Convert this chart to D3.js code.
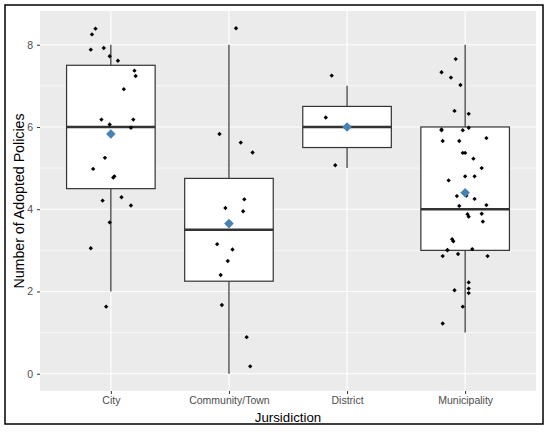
<!DOCTYPE html>
<html>
<head>
<meta charset="utf-8">
<script src="https://cdn.jsdelivr.net/npm/d3@7"></script>
<style>
  body { margin: 0; background: #fff; }
  text { font-family: "Liberation Sans", Arial, sans-serif; }
</style>
</head>
<body>
<div id="grafico"></div>
<script>
// categorias e estatísticas do boxplot
const categories = ["City", "Community/Town", "District", "Municipality"];
const lowerWhisker = [2, 0, 5, 1];
const q1 = [4.5, 2.25, 5.5, 3];
const medians = [6, 3.5, 6, 4];
const q3 = [7.5, 4.75, 6.5, 6];
const upperWhisker = [8, 8, 7, 8];
const means = [5.83, 3.65, 6.0, 4.4];
const yTicks = [0, 2, 4, 6, 8];

// pontos com jitter: [deslocamento horizontal (fração da categoria), valor]
const cityPts = [[-0.13, 8.39], [-0.16, 8.25], [-0.17, 7.88], [-0.06, 7.92], [-0.01, 7.72], [0.06, 7.61],
  [0.20, 7.37], [0.21, 7.24], [0.11, 6.92], [-0.08, 6.18], [-0.01, 6.06], [0.19, 6.18], [0.17, 5.98],
  [-0.05, 5.25], [-0.15, 4.98], [0.03, 4.80], [0.02, 4.77], [-0.07, 4.21], [0.09, 4.29], [0.17, 4.09],
  [-0.01, 3.68], [-0.17, 3.05], [-0.04, 1.63]];
const communityPts = [[0.06, 8.40], [-0.08, 5.83], [0.10, 5.62], [0.20, 5.38], [0.13, 4.24], [-0.03, 4.03],
  [0.12, 3.95], [-0.10, 3.15], [0.03, 3.02], [-0.01, 2.74], [-0.07, 2.40], [-0.06, 1.67], [0.15, 0.89],
  [0.18, 0.18]];
const districtPts = [[-0.13, 7.25], [-0.18, 6.23], [-0.10, 5.07]];
const municipalityPts = [[-0.08, 7.65], [-0.20, 7.33], [-0.12, 7.20], [-0.04, 7.02], [-0.09, 6.39], [0.03, 6.32],
  [-0.20, 5.94], [-0.20, 5.92], [-0.02, 5.92], [0.03, 5.98], [-0.19, 5.66], [-0.05, 5.66], [0.18, 5.73],
  [-0.02, 5.37], [0.00, 5.37], [0.07, 5.23], [0.14, 5.00], [0.00, 4.80], [0.08, 4.80], [-0.14, 4.70],
  [-0.07, 4.32], [0.01, 4.33], [0.08, 4.25], [-0.05, 4.08], [0.18, 4.10], [0.02, 3.88], [0.14, 3.89],
  [0.03, 3.82], [0.15, 3.70], [-0.11, 3.27], [-0.10, 3.22], [-0.15, 3.01], [-0.15, 3.00], [0.06, 3.03],
  [-0.19, 2.86], [-0.06, 2.91], [0.19, 2.86], [0.03, 2.22], [-0.09, 2.03], [0.03, 2.07], [0.03, 1.96],
  [-0.02, 1.63], [-0.19, 1.22]];
const pointSets = [cityPts, communityPts, districtPts, municipalityPts];

//Define as margens do gráfico (painel cinza)
const W = 550, H = 432;
const margin = { top: 11, right: 14, bottom: 41, left: 40 };
const width = W - margin.left - margin.right;
const height = H - margin.top - margin.bottom;

const root = d3.select("#grafico")
  .append("svg")
    .attr("width", W)
    .attr("height", H);

root.append("rect").attr("width", W).attr("height", H).attr("fill", "#fff");

// moldura preta externa
root.append("rect")
  .attr("x", 5).attr("y", 5)
  .attr("width", 538).attr("height", 419)
  .attr("fill", "none")
  .attr("stroke", "#000")
  .attr("stroke-width", 1.5);

const svg = root.append("g")
  .attr("transform", "translate(" + margin.left + "," + margin.top + ")");

// escalas
const x = d3.scalePoint()
  .domain(categories)
  .range([0, width])
  .padding(0.6);
const step = x.step();

const y = d3.scaleLinear()
  .domain([-0.42, 8.82])
  .range([height, 0]);

// fundo do painel
svg.append("rect")
  .attr("width", width)
  .attr("height", height)
  .attr("fill", "#EBEBEB");

// grade menor
svg.selectAll(".minor")
  .data([1, 3, 5, 7])
  .enter().append("line")
    .attr("x1", 0).attr("x2", width)
    .attr("y1", d => y(d)).attr("y2", d => y(d))
    .attr("stroke", "#fff")
    .attr("stroke-width", 0.6);

// grade maior
svg.selectAll(".major")
  .data(yTicks)
  .enter().append("line")
    .attr("x1", 0).attr("x2", width)
    .attr("y1", d => y(d)).attr("y2", d => y(d))
    .attr("stroke", "#fff")
    .attr("stroke-width", 1.1);

svg.selectAll(".vgrid")
  .data(categories)
  .enter().append("line")
    .attr("x1", d => x(d)).attr("x2", d => x(d))
    .attr("y1", 0).attr("y2", height)
    .attr("stroke", "#fff")
    .attr("stroke-width", 1.1);

// eixos
const yAxis = svg.append("g")
  .call(d3.axisLeft(y).tickValues(yTicks).tickSize(3).tickPadding(4));
const xAxis = svg.append("g")
  .attr("transform", "translate(0," + height + ")")
  .call(d3.axisBottom(x).tickSize(3).tickPadding(3));

[xAxis, yAxis].forEach(ax => {
  ax.select(".domain").remove();
  ax.selectAll(".tick line").attr("stroke", "#333").attr("stroke-width", 1);
  ax.selectAll(".tick text")
    .attr("fill", "#4D4D4D")
    .attr("font-size", "10.5px")
    .attr("font-family", "'Liberation Sans', Arial, sans-serif");
});

// boxplots
const boxW = step * 0.75;
const boxes = svg.selectAll(".box")
  .data(categories)
  .enter().append("g");

boxes.append("line")
  .attr("x1", d => x(d)).attr("x2", d => x(d))
  .attr("y1", (d, i) => y(upperWhisker[i]))
  .attr("y2", (d, i) => y(q3[i]))
  .attr("stroke", "#333").attr("stroke-width", 1.2);

boxes.append("line")
  .attr("x1", d => x(d)).attr("x2", d => x(d))
  .attr("y1", (d, i) => y(q1[i]))
  .attr("y2", (d, i) => y(lowerWhisker[i]))
  .attr("stroke", "#333").attr("stroke-width", 1.2);

boxes.append("rect")
  .attr("x", d => x(d) - boxW / 2)
  .attr("width", boxW)
  .attr("y", (d, i) => y(q3[i]))
  .attr("height", (d, i) => y(q1[i]) - y(q3[i]))
  .attr("fill", "#fff")
  .attr("stroke", "#333")
  .attr("stroke-width", 1.2);

boxes.append("line")
  .attr("x1", d => x(d) - boxW / 2).attr("x2", d => x(d) + boxW / 2)
  .attr("y1", (d, i) => y(medians[i]))
  .attr("y2", (d, i) => y(medians[i]))
  .attr("stroke", "#333").attr("stroke-width", 2.4);

// pontos com jitter
const dot = d3.symbol().type(d3.symbolSquare).size(9.5)();
pointSets.forEach((pts, i) => {
  svg.selectAll(".pt" + i)
    .data(pts)
    .enter().append("path")
      .attr("d", dot)
      .attr("transform", d => "translate(" + (x(categories[i]) + d[0] * step) + "," + y(d[1]) + ") rotate(45)")
      .attr("fill", "#000");
});

// médias (losango azul)
const diamond = d3.symbol().type(d3.symbolSquare).size(46)();
svg.selectAll(".mean")
  .data(means)
  .enter().append("path")
    .attr("d", diamond)
    .attr("transform", (d, i) => "translate(" + x(categories[i]) + "," + y(d) + ") rotate(45)")
    .attr("fill", "#4682B4");

// títulos dos eixos
root.append("text")
  .attr("x", margin.left + width / 2)
  .attr("y", 422)
  .attr("text-anchor", "middle")
  .attr("font-size", "13.3px")
  .attr("fill", "#000")
  .text("Jursidiction");

root.append("text")
  .attr("transform", "translate(23.5," + (margin.top + height / 2) + ") rotate(-90)")
  .attr("text-anchor", "middle")
  .attr("font-size", "14.2px")
  .attr("fill", "#000")
  .text("Number of Adopted Policies");
</script>
</body>
</html>
